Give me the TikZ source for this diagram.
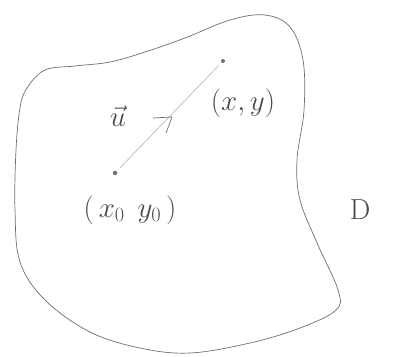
\documentclass[tikz,border=0pt]{standalone}
\usepackage{fix-cm}
\usepackage{xcolor}
\usepackage{amsmath}
\usepackage{tikz}
\definecolor{sketchline}{HTML}{6E6E6E}
\definecolor{sketchfaint}{HTML}{A8A8A8}
\definecolor{sketchtext}{HTML}{4A4A4A}

\begin{document}
\begin{tikzpicture}[x=1pt,y=-1pt,
  pt/.style={circle,fill=sketchline,inner sep=0pt,minimum size=4.5pt},
  lbl/.style={text=sketchtext,inner sep=0pt,font=\fontsize{29}{34}\selectfont}]
\useasboundingbox (0,0) rectangle (395,356);
% region D
\draw[sketchline,line width=0.7pt] plot[smooth cycle,tension=0.6] coordinates {
  (27,88) (45,70) (75,66) (110,62) (145,52) (185,38) (230,20) (265,15)
  (290,27) (303,60) (304,110) (297,160) (300,200) (318,245) (338,290)
  (336,310) (300,328) (250,343) (190,353) (140,348) (90,332) (45,300)
  (20,262) (15,210) (16,150) (20,108)};
\node[pt] (p0) at (115,173) {};
\node[pt,minimum size=4pt] (p1) at (223,61) {};
\draw[sketchfaint,line width=0.5pt,shorten <=5pt,shorten >=4pt] (p0) -- (p1);
\node[lbl] (p1lbl) at (243,103) {$(x,y)$};
\node[lbl] (p0lbl) at (130,210) {$(\,x_0\;\,y_0\,)$};
\node[lbl] (ulbl) at (118,116) {$\vec{u}$};
\node[lbl] (dlbl) at (360,210) {D};
% direction mark
\coordinate (ua) at (153,118);
\coordinate (ub) at (172,117);
\coordinate (uc) at (166,133);
\draw[sketchline,line width=0.7pt] (ua) -- (ub) -- (uc);
\end{tikzpicture}
\end{document}
